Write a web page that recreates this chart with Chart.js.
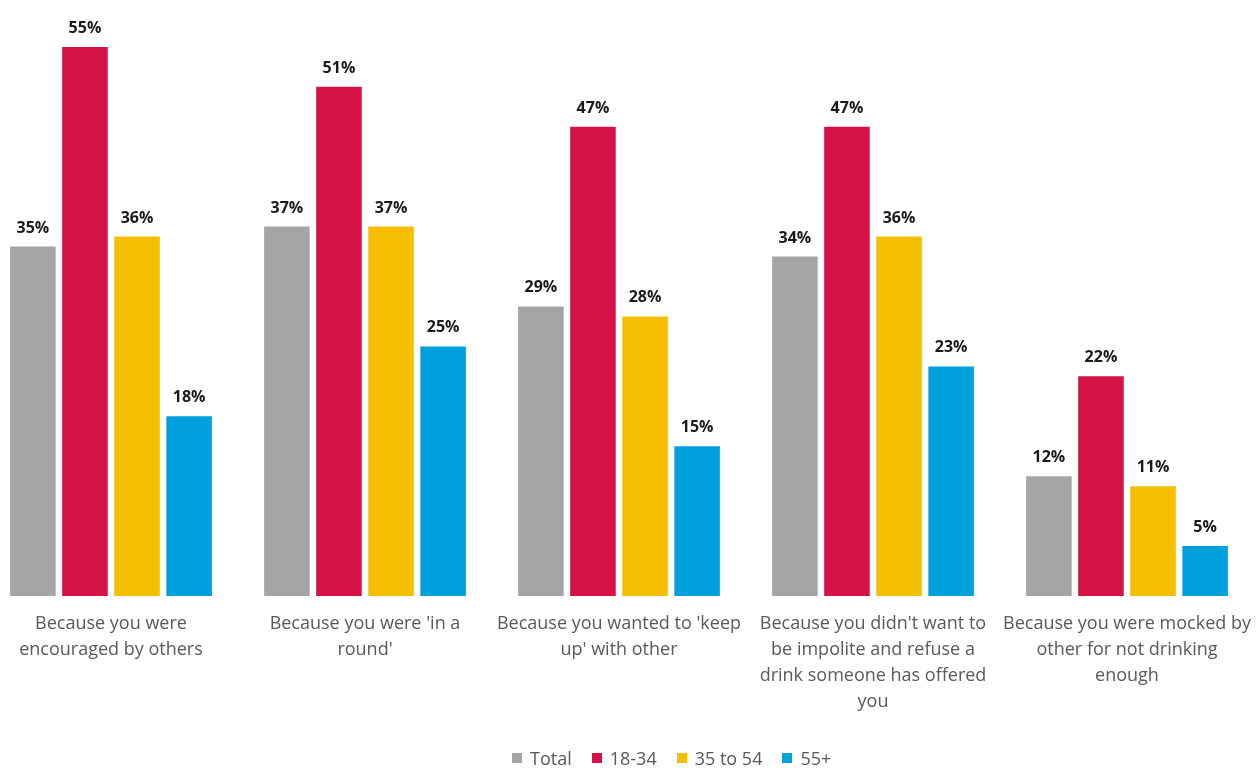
<!DOCTYPE html>
<html>
<head>
<meta charset="utf-8">
<script src="https://cdn.jsdelivr.net/npm/chart.js@4.4.0/dist/chart.umd.min.js"></script>
<style>
  html, body { margin: 0; padding: 0; background: #fff; overflow: hidden; }
  #page { position: relative; width: 1260px; height: 768px; overflow: hidden; }
  #wrap { position: absolute; left: -16px; top: 0; width: 1270px; height: 768px; }
  #legend { position: absolute; left: 512px; top: 746px; display: flex; align-items: center;
            font-family: "Open Sans", sans-serif; font-size: 18px; color: #595959; }
  #legend .item { display: flex; align-items: center; margin-right: 20px; }
  #legend .box { width: 10px; height: 10px; margin-right: 8px; }
</style>
</head>
<body>
<div id="page">
  <div id="wrap"><canvas id="myChart"></canvas></div>
  <div id="legend"></div>
</div>
<script>
// data
var categories = [
  ["Because you were", "encouraged by others"],
  ["Because you were 'in a", "round'"],
  ["Because you wanted to 'keep", "up' with other"],
  ["Because you didn't want to", "be impolite and refuse a", "drink someone has offered", "you"],
  ["Because you were mocked by", "other for not drinking", "enough"]
];
var seriesNames = ["Total", "18-34", "35 to 54", "55+"];
var total = [35, 37, 29, 34, 12];
var age1834 = [55, 51, 47, 47, 22];
var age3554 = [36, 37, 28, 36, 11];
var age55 = [18, 25, 15, 23, 5];
var colors = ["#A5A5A8", "#D41245", "#F5BE00", "#00A0DC"];

var allSeries = [total, age1834, age3554, age55];

var datasets = [];
for (var i = 0; i < allSeries.length; i++) {
  datasets.push({
    label: seriesNames[i],
    data: allSeries[i],
    backgroundColor: colors[i],
    categoryPercentage: 0.82,
    barPercentage: 0.875
  });
}

// value labels above each bar
var barLabels = {
  id: "barLabels",
  afterDatasetsDraw: function(chart) {
    var ctx = chart.ctx;
    ctx.save();
    ctx.font = "bold 16px 'Open Sans', sans-serif";
    ctx.fillStyle = "#1a1a1a";
    ctx.textAlign = "center";
    ctx.textBaseline = "alphabetic";
    chart.data.datasets.forEach(function(ds, di) {
      chart.getDatasetMeta(di).data.forEach(function(bar, j) {
        ctx.fillText(ds.data[j] + "%", bar.x, bar.y - 14);
      });
    });
    ctx.restore();
  }
};

var chart = new Chart(document.getElementById("myChart"), {
  type: "bar",
  data: { labels: categories, datasets: datasets },
  options: {
    responsive: true,
    maintainAspectRatio: false,
    animation: false,
    layout: { padding: 0 },
    plugins: {
      legend: { display: false },
      tooltip: { enabled: false }
    },
    scales: {
      y: { display: false, min: 0, max: 59.7 },
      x: {
        grid: { display: false, drawTicks: false },
        border: { display: false },
        ticks: {
          autoSkip: false,
          maxRotation: 0,
          padding: 15,
          color: "#595959",
          font: { family: "'Open Sans', sans-serif", size: 18, lineHeight: 1.45 }
        },
        afterFit: function(scale) {
          scale.height = 172;
          // keep the plot full width, labels may run to the edge
          scale.paddingLeft = 0;
          scale.paddingRight = 0;
        }
      }
    }
  },
  plugins: [barLabels]
});

// legend
var legend = document.getElementById("legend");
seriesNames.forEach(function(name, i) {
  var item = document.createElement("div");
  item.className = "item";
  item.innerHTML = '<span class="box" style="background:' + colors[i] + '"></span>' + name;
  legend.appendChild(item);
});
</script>
</body>
</html>
